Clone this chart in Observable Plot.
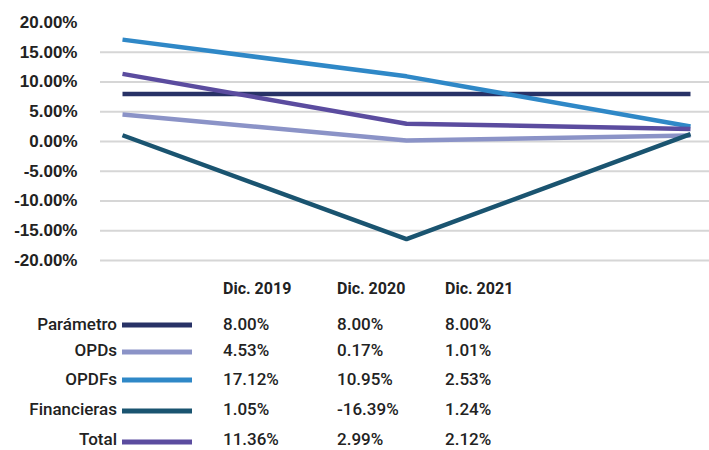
<!DOCTYPE html>
<html>
<head>
<meta charset="utf-8">
<script src="https://cdn.jsdelivr.net/npm/d3@7"></script>
<script src="https://cdn.jsdelivr.net/npm/@observablehq/plot@0.6"></script>
<style>
  html, body { margin: 0; padding: 0; background: #fff; }
  #wrap { position: relative; width: 709px; height: 450px; font-family: Roboto, "Liberation Sans", Arial, sans-serif; color: #222; }
  #chart svg { display: block; }
  .cell { position: absolute; white-space: nowrap; transform: translateY(-50%); line-height: 1; }
  .lab { text-align: right; font-size: 17px; font-weight: 500; }
  .val { font-size: 17px; font-weight: 500; }
  .hdr { font-size: 16px; font-weight: bold; }
  .sw { position: absolute; width: 70px; height: 5px; transform: translateY(-50%); }
</style>
</head>
<body>
<div id="wrap"><div id="chart"></div><div id="table"></div></div>
<script>
// ---- data ----
const periods = ["Dic. 2019", "Dic. 2020", "Dic. 2021"];
const seriesNames = ["Parámetro", "OPDs", "OPDFs", "Financieras", "Total"];
const parametro = [0.08, 0.08, 0.08];
const opds = [0.0453, 0.0017, 0.0101];
const opdfs = [0.1712, 0.1095, 0.0253];
const financieras = [0.0105, -0.1639, 0.0124];
const total = [0.1136, 0.0299, 0.0212];
const yTicks = [-0.20, -0.15, -0.10, -0.05, 0, 0.05, 0.10, 0.15, 0.20];

// ---- styles ----
const colors = ["#283266", "#8b93c7", "#2f88c7", "#1a5470", "#5b4c9f"];

const valuesBySeries = [parametro, opds, opdfs, financieras, total];
const rows = [];
seriesNames.forEach((s, i) => periods.forEach((p, j) => rows.push({series: s, period: p, value: valuesBySeries[i][j]})));

const fmt = d => (d * 100).toFixed(2) + "%";

const chart = Plot.plot({
  width: 709,
  height: 270,
  marginTop: 22,
  marginBottom: 10,
  marginLeft: 100,
  marginRight: 0,
  style: {fontFamily: "Liberation Sans, Arial, sans-serif", color: "#222", background: "#fff"},
  x: {type: "point", domain: periods, range: [122, 690], padding: 0, axis: null},
  y: {domain: [-0.2, 0.2], axis: null},
  color: {domain: seriesNames, range: colors},
  marks: [
    Plot.ruleY(yTicks.filter(t => t < 0.2), {stroke: "#d6d6d6", strokeWidth: 2.2, strokeOpacity: 1}),
    Plot.axisY({ticks: yTicks, tickFormat: fmt, tickSize: 0, tickPadding: 23, fontSize: 17, fontWeight: "bold", label: null}),
    Plot.line(rows, {x: "period", y: "value", z: "series", stroke: "series", strokeWidth: 4.5, strokeLinecap: "butt", strokeLinejoin: "miter"})
  ]
});
document.getElementById("chart").appendChild(chart);

// ---- legend table below the chart ----
const table = document.getElementById("table");
const colX = [223, 337, 445];
const headerY = 289;
const rowY = [324, 350, 379, 409, 439];
const swY = [325, 352, 380, 411, 442];
function add(cls, text, x, y, right) {
  const d = document.createElement("div");
  d.className = "cell " + cls;
  d.textContent = text;
  d.style.top = y + "px";
  if (right != null) { d.style.right = (709 - right) + "px"; } else { d.style.left = x + "px"; }
  table.appendChild(d);
}
periods.forEach((p, j) => add("hdr", p, colX[j], headerY));
seriesNames.forEach((s, i) => {
  add("lab", s, null, rowY[i], 117);
  const sw = document.createElement("div");
  sw.className = "sw";
  sw.style.left = "122px";
  sw.style.top = swY[i] + "px";
  sw.style.background = colors[i];
  table.appendChild(sw);
  valuesBySeries[i].forEach((v, j) => add("val", fmt(v), colX[j], rowY[i]));
});
</script>
</body>
</html>
